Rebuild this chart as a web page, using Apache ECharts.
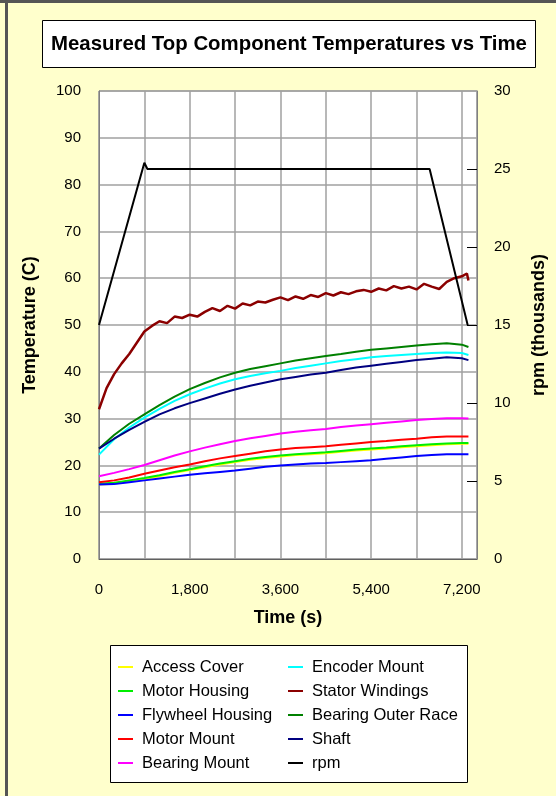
<!DOCTYPE html>
<html>
<head>
<meta charset="utf-8">
<title>Measured Top Component Temperatures vs Time</title>
<script src="https://cdn.jsdelivr.net/npm/echarts@6/dist/echarts.min.js"></script>
<style>
  html, body { margin: 0; padding: 0; background: #FFFFCC; }
  #chart { width: 556px; height: 796px; }
</style>
</head>
<body>
<div id="chart"></div>
<script>
// time (s) for the smooth temperature curves
var timeSec = [0, 300, 600, 900, 1200, 1500, 1800, 2100, 2400, 2700, 3000, 3300, 3600,
  3900, 4200, 4500, 4800, 5100, 5400, 5700, 6000, 6300, 6600, 6900, 7200, 7330];

var accessCover = [15.9, 16.1, 16.6, 17.1, 17.7, 18.4, 19.0, 19.6, 20.2, 20.7, 21.2, 21.6, 21.9,
  22.2, 22.4, 22.6, 22.9, 23.2, 23.4, 23.6, 23.9, 24.1, 24.3, 24.5, 24.6, 24.6];
var motorHousing = [16.1, 16.3, 16.8, 17.3, 17.9, 18.6, 19.2, 19.8, 20.4, 20.9, 21.4, 21.8, 22.1,
  22.4, 22.6, 22.8, 23.1, 23.4, 23.6, 23.8, 24.1, 24.3, 24.5, 24.7, 24.8, 24.8];
var flywheelHousing = [15.9, 16.0, 16.4, 16.8, 17.2, 17.6, 18.0, 18.3, 18.6, 18.9, 19.3, 19.7, 20.0,
  20.2, 20.4, 20.5, 20.7, 20.9, 21.1, 21.4, 21.7, 22.0, 22.2, 22.4, 22.4, 22.4];
var motorMount = [16.4, 16.8, 17.4, 18.2, 18.9, 19.6, 20.2, 20.9, 21.5, 22.0, 22.5, 23.0, 23.4,
  23.7, 23.9, 24.1, 24.4, 24.7, 25.0, 25.2, 25.5, 25.7, 26.0, 26.2, 26.2, 26.2];
var bearingMount = [17.7, 18.4, 19.2, 20.1, 21.1, 22.1, 23.0, 23.8, 24.5, 25.2, 25.8, 26.3, 26.8,
  27.2, 27.5, 27.8, 28.2, 28.5, 28.8, 29.1, 29.4, 29.7, 29.9, 30.1, 30.1, 30.0];
var encoderMount = [22.3, 25.6, 28.1, 30.2, 32.1, 33.8, 35.2, 36.4, 37.5, 38.4, 39.1, 39.7, 40.2,
  40.8, 41.3, 41.8, 42.3, 42.7, 43.1, 43.4, 43.6, 43.8, 44.0, 44.1, 44.0, 43.6];
var bearingOuterRace = [23.6, 26.5, 28.9, 30.9, 32.9, 34.7, 36.3, 37.6, 38.8, 39.8, 40.6, 41.2, 41.8,
  42.4, 42.9, 43.4, 43.8, 44.3, 44.7, 45.0, 45.3, 45.6, 45.9, 46.1, 45.8, 45.3];
var shaft = [23.6, 25.7, 27.6, 29.3, 30.9, 32.2, 33.3, 34.3, 35.3, 36.2, 37.0, 37.7, 38.4,
  38.9, 39.4, 39.8, 40.4, 40.9, 41.3, 41.7, 42.1, 42.5, 42.8, 43.1, 42.9, 42.5];

// stator windings is noisy, read at a finer step
var statorTime = [0, 150, 300, 450, 600, 750, 900, 1050, 1200, 1350, 1500, 1650, 1800, 1950,
  2100, 2250, 2400, 2550, 2700, 2850, 3000, 3150, 3300, 3450, 3600, 3750, 3900, 4050, 4200,
  4350, 4500, 4650, 4800, 4950, 5100, 5250, 5400, 5550, 5700, 5850, 6000, 6150, 6300, 6450,
  6600, 6750, 6900, 7050, 7200, 7300, 7330];
var statorWindings = [32.0, 36.5, 39.5, 41.8, 43.8, 46.2, 48.6, 49.8, 50.8, 50.4, 51.8, 51.5, 52.2, 51.8,
  52.8, 53.6, 53.0, 54.1, 53.5, 54.6, 54.2, 55.0, 54.8, 55.4, 55.9, 55.3, 56.1, 55.6, 56.4,
  56.0, 56.8, 56.3, 57.0, 56.6, 57.2, 57.5, 57.1, 57.8, 57.4, 58.3, 57.8, 58.2, 57.6, 58.8,
  58.2, 57.7, 59.2, 60.0, 60.4, 61.0, 59.5];

// rpm (thousands), right axis
var rpmTime = [0, 900, 960, 3500, 3520, 6560, 7315];
var rpmValue = [15, 25.4, 25.0, 25.0, 25.1, 25.0, 15];

var xTicks = [0, 1800, 3600, 5400, 7200];
var rpmTicks = [5, 10, 15, 20, 25];
var legendLeft = ['Access Cover', 'Motor Housing', 'Flywheel Housing', 'Motor Mount', 'Bearing Mount'];
var legendRight = ['Encoder Mount', 'Stator Windings', 'Bearing Outer Race', 'Shaft', 'rpm'];

function pairs(xs, ys) {
  return xs.map(function(x, i) { return [x, ys[i]]; });
}

var font = 'Liberation Sans, Arial, sans-serif';

function line(name, color, xs, ys, width, axis) {
  return {
    name: name,
    type: 'line',
    yAxisIndex: axis || 0,
    data: pairs(xs, ys),
    showSymbol: false,
    symbol: 'none',
    itemStyle: { color: color },
    lineStyle: { color: color, width: width || 2 }
  };
}

var legendBase = {
  orient: 'vertical',
  top: 657,
  padding: 0,
  icon: 'rect',
  itemWidth: 15,
  itemHeight: 2,
  itemGap: 4,
  textStyle: { fontFamily: font, fontSize: 16.5, color: '#000', lineHeight: 20, padding: [0, 0, 0, 4] }
};

var option = {
  backgroundColor: '#FFFFCC',
  animation: false,
  textStyle: { fontFamily: font },
  title: {
    text: 'Measured Top Component Temperatures vs Time',
    left: 51,
    top: 34,
    padding: 0,
    textStyle: { fontFamily: font, fontSize: 20.4, fontWeight: 'bold', color: '#000' }
  },
  graphic: [
    { type: 'rect', z: -1, shape: { x: 42.5, y: 20.5, width: 493, height: 47 },
      style: { fill: '#fff', stroke: '#000', lineWidth: 1 } },
    { type: 'rect', z: -1, shape: { x: 110.5, y: 645.5, width: 357, height: 137 },
      style: { fill: '#fff', stroke: '#000', lineWidth: 1 } },
    { type: 'line', shape: { x1: 6.5, y1: 0, x2: 6.5, y2: 796 },
      style: { stroke: '#555', lineWidth: 3 } },
    { type: 'line', shape: { x1: 0, y1: 1.5, x2: 556, y2: 1.5 },
      style: { stroke: '#555', lineWidth: 3 } }
  ],
  legend: [
    Object.assign({}, legendBase, { left: 118, data: legendLeft }),
    Object.assign({}, legendBase, { left: 288, data: legendRight })
  ],
  grid: {
    left: 99,
    right: 76,
    top: 91,
    bottom: 237,
    show: true,
    backgroundColor: '#fff',
    borderColor: '#808080',
    borderWidth: 1
  },
  xAxis: {
    type: 'value',
    min: 0,
    max: 7500,
    interval: 900,
    name: 'Time (s)',
    nameLocation: 'middle',
    nameGap: 50,
    nameTextStyle: { fontFamily: font, fontSize: 18, fontWeight: 'bold', color: '#000' },
    axisLine: { show: true, lineStyle: { color: '#606060', width: 1 } },
    axisTick: { show: false },
    axisLabel: {
      margin: 23,
      fontSize: 15,
      color: '#000',
      showMaxLabel: false,
      formatter: function(v) {
        return xTicks.indexOf(v) >= 0 ? v.toLocaleString('en-US') : '';
      }
    },
    splitLine: { show: true, lineStyle: { color: '#a0a0a0', width: 1.5 } }
  },
  yAxis: [{
    type: 'value',
    min: 0,
    max: 100,
    interval: 10,
    name: 'Temperature (C)',
    nameLocation: 'middle',
    nameRotate: 90,
    nameGap: 60,
    nameTextStyle: { fontFamily: font, fontSize: 18, fontWeight: 'bold', color: '#000' },
    axisLine: { show: true, lineStyle: { color: '#808080' } },
    axisTick: { show: false },
    axisLabel: { margin: 18, fontSize: 15, color: '#000' },
    splitLine: { show: true, lineStyle: { color: '#a0a0a0', width: 1.5 } }
  }, {
    type: 'value',
    min: 0,
    max: 30,
    interval: 5,
    position: 'right',
    name: 'rpm (thousands)',
    nameLocation: 'middle',
    nameRotate: 90,
    nameGap: 53,
    nameTextStyle: { fontFamily: font, fontSize: 18, fontWeight: 'bold', color: '#000' },
    axisLine: { show: true, lineStyle: { color: '#808080' } },
    axisTick: { show: true, inside: true, length: 10, customValues: rpmTicks, lineStyle: { color: '#000' } },
    axisLabel: { margin: 17, fontSize: 15, color: '#000' },
    splitLine: { show: false }
  }],
  series: [
    line('Access Cover', '#FFFF00', timeSec, accessCover),
    line('Motor Housing', '#00EE00', timeSec, motorHousing),
    line('Flywheel Housing', '#0000FF', timeSec, flywheelHousing),
    line('Motor Mount', '#FF0000', timeSec, motorMount),
    line('Bearing Mount', '#FF00FF', timeSec, bearingMount),
    line('Encoder Mount', '#00FFFF', timeSec, encoderMount),
    line('Stator Windings', '#8B0000', statorTime, statorWindings, 2.5),
    line('Bearing Outer Race', '#008000', timeSec, bearingOuterRace),
    line('Shaft', '#000080', timeSec, shaft),
    line('rpm', '#000000', rpmTime, rpmValue, 2, 1)
  ]
};

var myChart = echarts.init(document.getElementById('chart'));
myChart.setOption(option);
</script>
</body>
</html>
